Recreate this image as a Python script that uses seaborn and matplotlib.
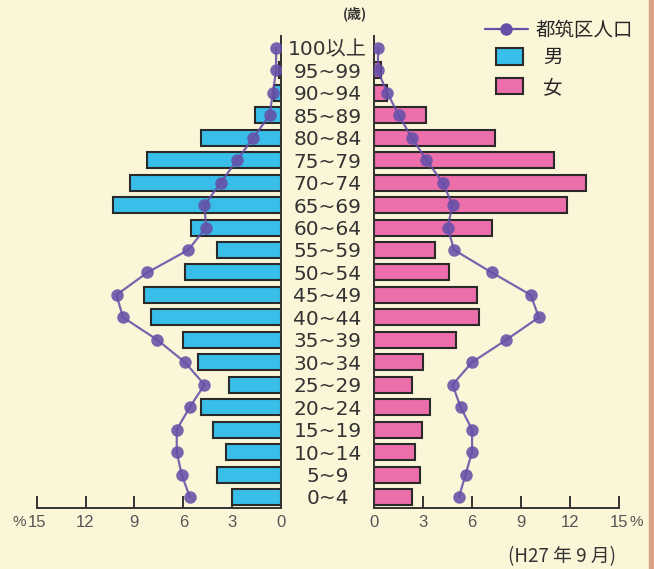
import numpy as np
import pandas as pd
import matplotlib
matplotlib.use("Agg")
import matplotlib.pyplot as plt
import seaborn as sns
from matplotlib.lines import Line2D
from matplotlib.patches import Patch, Rectangle

sns.set_theme(style="white")
plt.rcParams['font.family'] = ['DejaVu Sans', 'Noto Sans CJK JP']

# age groups, top to bottom as in the chart
age_groups = ['100以上', '95~99', '90~94', '85~89', '80~84', '75~79', '70~74',
              '65~69', '60~64', '55~59', '50~54', '45~49', '40~44', '35~39',
              '30~34', '25~29', '20~24', '15~19', '10~14', '5~9', '0~4']
male_pct = [0.0, 0.1, 0.4, 1.6, 4.9, 8.2, 9.3, 10.3, 5.5, 3.9, 5.9,
            8.4, 8.0, 6.0, 5.1, 3.2, 4.9, 4.2, 3.4, 3.9, 3.0]
female_pct = [0.0, 0.4, 0.8, 3.2, 7.4, 11.0, 13.0, 11.8, 7.2, 3.7, 4.6,
              6.3, 6.4, 5.0, 3.0, 2.3, 3.4, 2.9, 2.5, 2.8, 2.3]
ward_male_pct = [0.3, 0.3, 0.5, 0.7, 1.7, 2.7, 3.7, 4.7, 4.6, 5.7, 8.2,
                 10.1, 9.7, 7.6, 5.9, 4.7, 5.6, 6.4, 6.4, 6.1, 5.6]
ward_female_pct = [0.25, 0.2, 0.8, 1.5, 2.3, 3.2, 4.2, 4.8, 4.5, 4.9, 7.2,
                   9.6, 10.1, 8.1, 6.0, 4.8, 5.3, 6.0, 6.0, 5.6, 5.2]
x_ticks = [0, 3, 6, 9, 12, 15]

BG = '#FCF6D8'
MALE = '#38BEE8'
FEMALE = '#EC6EAA'
LINE = '#6650A8'
EDGE = '#2A2A2A'
AXIS = '#333333'
TICK_TXT = '#555555'

df = pd.DataFrame({'age': age_groups, 'male': male_pct, 'female': female_pct})
pos = np.arange(len(age_groups))

W, H = 654, 569
fig = plt.figure(figsize=(W / 100, H / 100), dpi=100, facecolor=BG)
ax_l = fig.add_axes([36.7 / W, 61 / H, 244.3 / W, 472 / H])
ax_r = fig.add_axes([374.3 / W, 61 / H, 244.4 / W, 472 / H])

for ax, col, color, ward in [(ax_l, 'male', MALE, ward_male_pct),
                             (ax_r, 'female', FEMALE, ward_female_pct)]:
    ax.set_facecolor('none')
    sns.barplot(data=df, x=col, y='age', order=age_groups, orient='h',
                color=color, saturation=1, width=0.71, edgecolor=EDGE,
                linewidth=1.5, ax=ax, zorder=2)
    sns.lineplot(x=ward, y=pos, sort=False, orient='y', color=LINE,
                 marker='o', markersize=9, markeredgewidth=0, linewidth=1.6,
                 alpha=0.88, legend=False, ax=ax, zorder=4)
    ax.set_ylim(20.49, -0.53)
    ax.set_xlabel('')
    ax.set_ylabel('')
    ax.set_xticks(x_ticks)
    ax.set_xticklabels([str(t) for t in x_ticks], family=['Liberation Sans'])
    ax.tick_params(axis='x', direction='in', length=8.5, width=1.4,
                   color=AXIS, pad=5, labelsize=12, labelcolor=TICK_TXT,
                   bottom=True)
    for s in ax.spines.values():
        s.set_visible(False)
    ax.spines['bottom'].set_visible(True)
    ax.spines['bottom'].set_color(AXIS)
    ax.spines['bottom'].set_linewidth(1.4)

# left: male, mirrored
ax_l.set_xlim(15, 0)
ax_l.spines['right'].set_visible(True)
ax_l.spines['right'].set_color(AXIS)
ax_l.spines['right'].set_linewidth(1.4)
ax_l.yaxis.tick_right()
ax_l.set_yticks(pos)
ax_l.set_yticklabels(age_groups)
ax_l.tick_params(axis='y', length=0, pad=33.5, labelsize=14.5,
                 labelcolor=AXIS, right=True, left=False)
for lbl in ax_l.get_yticklabels():
    lbl.set_horizontalalignment('center')

# right: female
ax_r.set_xlim(0, 15)
ax_r.spines['left'].set_visible(True)
ax_r.spines['left'].set_color(AXIS)
ax_r.spines['left'].set_linewidth(1.4)
ax_r.set_yticks([])

# percent signs beside the 15 ticks
ax_l.annotate('%', xy=(15, 0), xycoords=('data', 'axes fraction'),
              xytext=(-7.5, -5), textcoords='offset points', ha='right',
              va='top', fontsize=11, color=TICK_TXT, family=['Liberation Sans'])
ax_r.annotate('%', xy=(15, 0), xycoords=('data', 'axes fraction'),
              xytext=(7.5, -5), textcoords='offset points', ha='left',
              va='top', fontsize=11, color=TICK_TXT, family=['Liberation Sans'])

# legends
leg1 = fig.legend(handles=[Line2D([], [], color=LINE, marker='o', markersize=9,
                                  markeredgewidth=0, linewidth=1.6)],
                  labels=['都筑区人口'], loc='upper left',
                  bbox_to_anchor=(485 / W, 1 - 20 / H), frameon=False,
                  handlelength=2.2, handletextpad=0.4,
                  borderpad=0, borderaxespad=0,
                  prop={'family': ['Noto Sans CJK JP'], 'size': 14})
leg2 = fig.legend(handles=[Patch(facecolor=MALE, edgecolor=EDGE, linewidth=1.5),
                           Patch(facecolor=FEMALE, edgecolor=EDGE, linewidth=1.5)],
                  labels=['男', '女'], loc='upper left',
                  bbox_to_anchor=(496 / W, 1 - 47 / H), frameon=False,
                  handlelength=1.4, handleheight=0.95, handletextpad=1.0,
                  labelspacing=0.45, borderpad=0, borderaxespad=0,
                  prop={'family': ['Noto Sans CJK JP'], 'size': 14})

fig.text(355 / W, 1 - 14 / H, '(歳)', ha='center', va='center', fontsize=10,
         color=AXIS, family=['Noto Sans CJK JP'], fontweight='bold')
fig.text(562 / W, 1 - 557 / H, '(H27 年 9 月)', ha='center', va='center',
         fontsize=13.5, color=AXIS, family=['Noto Sans CJK JP'])

# brownish frame strip at the right edge
fig.patches.append(Rectangle((649 / W, 0), 5 / W, 1, transform=fig.transFigure,
                             color='#D8A182', zorder=0))

fig.savefig('out.png', dpi=100, facecolor=BG)
